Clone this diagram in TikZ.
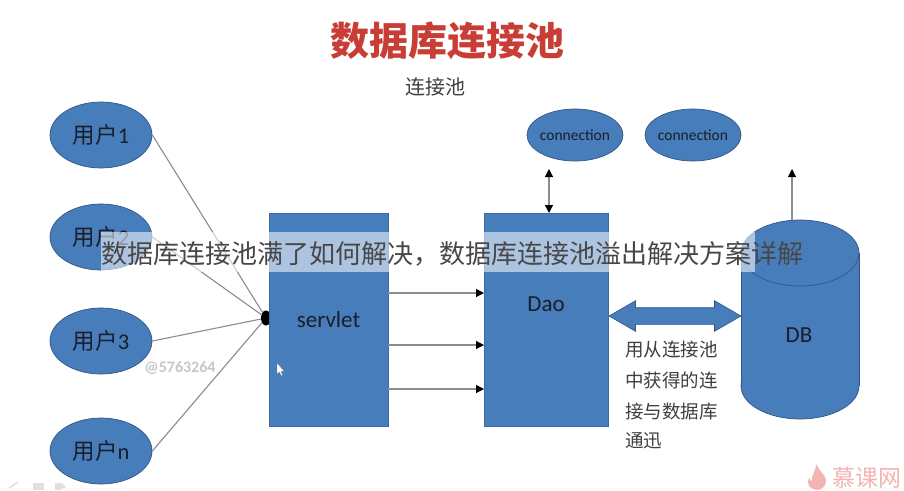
\documentclass[tikz,border=0pt]{standalone}
\usepackage{fontspec}
\setmainfont{Carlito}
\newfontfamily\cjk{Noto Sans CJK SC}
\usetikzlibrary{shapes.geometric,shapes.arrows,arrows.meta}
\definecolor{boxblue}{RGB}{72,125,187}
\definecolor{boxedge}{RGB}{50,85,130}
\definecolor{inkdark}{RGB}{25,30,40}
\definecolor{linkgray}{RGB}{140,140,140}
\definecolor{titlered}{RGB}{200,62,55}
\definecolor{logopink}{RGB}{243,180,180}
\newcommand{\userlabel}[1]{{\cjk\fontsize{22.5}{22.5}\selectfont 用户}{\fontsize{22.5}{22.5}\selectfont #1}}
\tikzset{
  userbox/.style={ellipse,draw=boxedge,line width=0.7pt,fill=boxblue,minimum width=102pt,minimum height=66pt,inner sep=0pt,text=inkdark},
  connbox/.style={ellipse,draw=boxedge,line width=0.7pt,fill=boxblue,minimum width=96pt,minimum height=52pt,inner sep=0pt,text=inkdark,font=\fontsize{15.5}{16}\selectfont},
  blockbox/.style={rectangle,draw=boxblue!85!black,line width=0.5pt,fill=boxblue,inner sep=0pt,text=inkdark,font=\fontsize{23}{23}\selectfont},
  userlink/.style={draw=linkgray,line width=1.1pt},
  arrowhd/.tip={Triangle[length=8pt,width=8pt,color=black]},
  flowlink/.style={draw=linkgray,line width=1.1pt,-arrowhd},
  noteline/.style={anchor=west,inner sep=0pt,text=black!75,font=\cjk\fontsize{18.5}{18.5}\selectfont}
}
\begin{document}
\begin{tikzpicture}[x=1pt,y=-1pt]
\useasboundingbox (0,0) rectangle (904,490);
\fill[white] (0,0) rectangle (904,490);
% title
\node[inner sep=0pt,text=titlered,font=\cjk\bfseries\fontsize{39}{39}\selectfont] (title) at (447,41) {数据库连接池};
\node[inner sep=0pt,text=black!75,font=\cjk\fontsize{20}{20}\selectfont] (sub) at (435,87) {连接池};
% hub and links
\node[ellipse,fill=black,minimum width=10pt,minimum height=15pt,inner sep=0pt] (hub) at (266,318) {};
\node[userbox] (u1) at (101,135) {\userlabel{1}};
\node[userbox] (u2) at (101,237) {\userlabel{2}};
\node[userbox] (u3) at (101,341) {\userlabel{3}};
\node[userbox] (un) at (101,451) {\userlabel{n}};
\draw[userlink] (u1.east) -- (hub);
\draw[userlink] (u2.east) -- (hub);
\draw[userlink] (u3.east) -- (hub);
\draw[userlink] (un.east) -- (hub);
% blocks
\node[blockbox,minimum width=119pt,minimum height=213pt] (servlet) at (328.5,319.5) {servlet};
\node[blockbox,minimum width=124pt,minimum height=213pt] (dao) at (546,319.5) {};
\node[inner sep=0pt,text=inkdark,font=\fontsize{23}{23}\selectfont] (daotext) at (546,304) {Dao};
\coordinate (sa) at (388,293); \coordinate (da) at (484,293);
\coordinate (sb) at (388,345); \coordinate (db2) at (484,345);
\coordinate (sc) at (388,389); \coordinate (dc) at (484,389);
\draw[flowlink] (sa) -- (da);
\draw[flowlink] (sb) -- (db2);
\draw[flowlink] (sc) -- (dc);
% connections
\node[connbox] (c1) at (575,135) {\makebox[0pt]{connection}};
\node[connbox] (c2) at (693,135) {\makebox[0pt]{connection}};
\coordinate (daotop) at (549,213); \coordinate (poolend) at (549,169);
\draw[draw=linkgray,line width=1.1pt,arrowhd-arrowhd] (daotop) -- (poolend);
% database
\draw[boxedge,line width=0.7pt,fill=boxblue] (800,386) ellipse[x radius=59,y radius=33];
\fill[boxblue] (741,253) rectangle (859,386);
\draw[boxedge,line width=0.7pt] (741,253) -- (741,386) (859,386) -- (859,253);
\draw[boxedge,line width=0.7pt,fill=boxblue] (800,253) ellipse[x radius=59,y radius=33];
\node[inner sep=0pt,text=inkdark,font=\fontsize{23}{23}\selectfont] (dbtext) at (799,335) {DB};
\coordinate (dbtop) at (792,220); \coordinate (dbend) at (792,169);
\draw[flowlink] (dbtop) -- (dbend);
% fat arrow
\node[double arrow,fill=boxblue,draw=boxedge,line width=0.6pt,minimum height=132pt,inner xsep=0pt,inner ysep=8pt,double arrow head extend=7pt,double arrow tip angle=60,double arrow head indent=0pt] (fat) at (675,316) {};
% note
\node[noteline] (n1) at (625,350) {用从连接池};
\node[noteline] (n2) at (625,380) {中获得的连};
\node[noteline] (n3) at (625,411) {接与数据库};
\node[noteline] (n4) at (625,441) {通迅};
% watermark and cursor
\node[inner sep=0pt,text=black!22,font=\bfseries\fontsize{16}{16}\selectfont] (mark) at (180,368) {@5763264};
\fill[white,draw=black!50,line width=0.3pt] (277,363) -- (277,374) -- (279.5,372) -- (281,375.5) -- (282.5,375) -- (281,371.5) -- (284,371) -- cycle;
% logo
\fill[logopink] (816,464) .. controls (819,470) and (822,472) .. (825,477) .. controls (828,484) and (823,490) .. (817,490) .. controls (811,490) and (806,485) .. (809,478) .. controls (810,480) and (811,481) .. (812,481) .. controls (811,475) and (816,472) .. (816,464) -- cycle;
\node[inner sep=0pt,anchor=west,text=logopink,font=\cjk\fontsize{23}{23}\selectfont] (logo) at (832,477.5) {慕课网};
% toolbar ghosts
\draw[black!12,line width=1.5pt] (9,488) -- (18,482);
\fill[black!12] (33,483) rectangle (44,490);
\fill[black!12] (55,483) -- (62,483) -- (66,487) -- (60,490) -- (55,490) -- cycle;
% caption band
\fill[white,opacity=0.55] (101,232) rectangle (755,272);
\node[inner sep=0pt,text=black!72,font=\cjk\fontsize{26}{26}\selectfont] (caption) at (452,254) {数据库连接池满了如何解决，数据库连接池溢出解决方案详解};
\end{tikzpicture}
\end{document}
